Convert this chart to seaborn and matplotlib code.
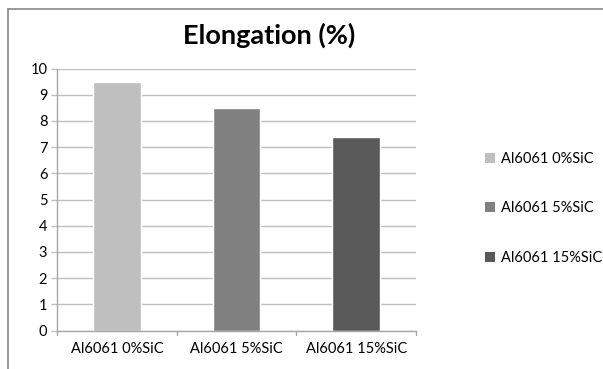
import matplotlib
matplotlib.use("Agg")
import matplotlib.pyplot as plt
from matplotlib.patches import Patch
from matplotlib.lines import Line2D
import seaborn as sns
import pandas as pd

categories = ["Al6061 0%SiC", "Al6061 5%SiC", "Al6061 15%SiC"]
elongation = [9.5, 8.5, 7.4]
colors = ["#BFBFBF", "#808080", "#595959"]
yticks = list(range(0, 11))

sns.set_style("white")
plt.rcParams["font.family"] = ["Lato", "DejaVu Sans"]
plt.rcParams["text.color"] = "#000000"
plt.rcParams["xtick.labelcolor"] = "#000000"
plt.rcParams["ytick.labelcolor"] = "#000000"

df = pd.DataFrame({"sample": categories, "value": elongation})

W, H = 603, 369
fig = plt.figure(figsize=(W / 100, H / 100), dpi=100)
ax = fig.add_axes([57 / W, 1 - 330.5 / H, (416 - 57) / W, (330.5 - 68.5) / H])

sns.barplot(data=df, x="sample", y="value", hue="sample", palette=colors,
            width=0.4, dodge=False, legend=False, ax=ax, saturation=1)

ax.set_ylim(0, 10)
ax.set_xlim(-0.5, 2.5)
ax.set_yticks(yticks)
ax.set_yticklabels([str(t) for t in yticks], fontsize=10.5)
ax.set_xlabel("")
ax.set_ylabel("")
ax.tick_params(axis="x", labelsize=10.5, length=0, pad=8)
ax.tick_params(axis="y", length=4, color="#BFBFBF", width=1, pad=3, left=True)
ax.grid(axis="y", color="#BFBFBF", linewidth=1)
ax.set_axisbelow(True)
for side in ["top", "right"]:
    ax.spines[side].set_visible(False)
for side in ["left", "bottom"]:
    ax.spines[side].set_color("#A6A6A6")
    ax.spines[side].set_linewidth(1)

# category separators on the x axis
for xb in [-0.5, 0.5, 1.5, 2.5]:
    ax.plot([xb, xb], [0, -0.18], color="#A6A6A6", lw=1, clip_on=False)

fig.text(269 / W, 1 - 35 / H, "Elongation (%)", ha="center", va="center",
         fontsize=19.5, fontweight="bold")

handles = [Patch(facecolor=c, edgecolor="none") for c in colors]
fig.legend(handles, categories, loc="center left",
           bbox_to_anchor=(472 / W, 1 - 208.5 / H), frameon=False,
           fontsize=10.5, handlelength=0.7, handleheight=0.7,
           handletextpad=0.4, labelspacing=2.45)

# chart area border
fig.add_artist(Line2D([8 / W, 8 / W], [0, 1 - 9 / H], color="#888888", lw=1.2))
fig.add_artist(Line2D([8 / W, 1], [1 - 9 / H, 1 - 9 / H], color="#888888", lw=1.2))

fig.savefig("out.png", dpi=100)
